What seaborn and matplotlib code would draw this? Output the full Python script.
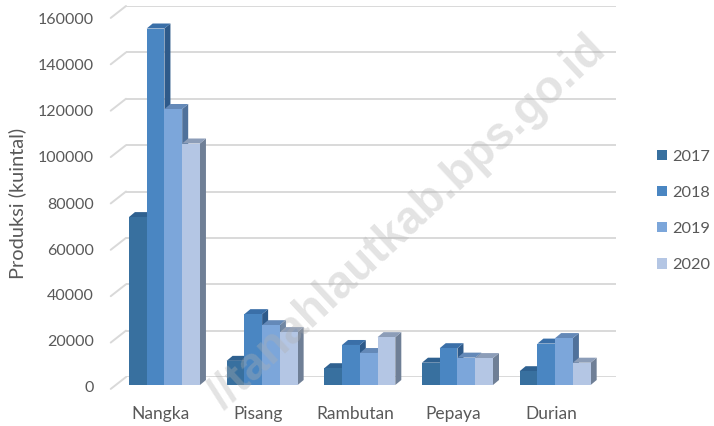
import pandas as pd
import matplotlib.pyplot as plt
from matplotlib.patches import Polygon
from matplotlib.transforms import IdentityTransform, ScaledTranslation
import seaborn as sns

# data
fruits = ['Nangka', 'Pisang', 'Rambutan', 'Pepaya', 'Durian']
years = ['2017', '2018', '2019', '2020']
prod_2017 = [73000, 10500, 7300, 9700, 6000]
prod_2018 = [155000, 30800, 17400, 16000, 18000]
prod_2019 = [120000, 26000, 13900, 11900, 20400]
prod_2020 = [105000, 23000, 20800, 11700, 9700]
y_ticks = [0, 20000, 40000, 60000, 80000, 100000, 120000, 140000, 160000]

front_colors = ['#38709F', '#4A86C2', '#7CA6DA', '#B4C6E4']
side_colors = ['#27506F', '#2E5A8A', '#4F719B', '#6F7F96']
top_colors = ['#2F6190', '#3A6FA8', '#6489B8', '#8C9DB8']
text_color = '#595959'
W, H = 714, 426

plt.rcParams['font.family'] = ['Lato', 'DejaVu Sans']

df = pd.DataFrame({'fruit': fruits, '2017': prod_2017, '2018': prod_2018,
                   '2019': prod_2019, '2020': prod_2020})
long_df = df.melt(id_vars='fruit', var_name='year', value_name='prod')

fig = plt.figure(figsize=(W / 100, H / 100), dpi=100, facecolor='white')


def box(x0, x1, y_top, y_bottom):
    # pixel box (from top left) to figure fractions
    return [x0 / W, 1 - y_bottom / H, (x1 - x0) / W, (y_bottom - y_top) / H]


# back wall with the gridlines
wall = fig.add_axes(box(126, 616, 6, 377))
wall.set_xlim(0, 1)
wall.set_ylim(0, 160000)
wall.set_yticks(y_ticks)
wall.set_xticks([])
wall.tick_params(left=False, labelleft=False)
wall.grid(axis='y', color='#d9d9d9', lw=1.4)
wall.set_axisbelow(True)
for s in wall.spines.values():
    s.set_visible(False)
for v in y_ticks:
    wall.annotate('', xy=(0, v), xycoords=wall.get_yaxis_transform(),
                  xytext=(-11, -8.6), textcoords='offset points',
                  arrowprops=dict(arrowstyle='-', color='#d9d9d9', lw=1.4,
                                  shrinkA=0, shrinkB=0))

# bars
ax = fig.add_axes(box(115.6, 604, 17, 385))
ax.patch.set_alpha(0)
sns.barplot(data=long_df, x='fruit', y='prod', hue='year', hue_order=years,
            palette=front_colors, width=0.727, gap=0, saturation=1, ax=ax)
ax.set_xlim(-0.5, 4.5)
ax.set_ylim(0, 160000)
ax.set_yticks(y_ticks)
ax.set_xlabel('')
ax.set_ylabel('Produksi (kuintal)', color=text_color, fontsize=14.4)
ax.yaxis.set_label_coords(26 / W, 1 - 203 / H, transform=fig.transFigure)
ax.tick_params(axis='y', length=0, pad=15.5, labelcolor=text_color, labelsize=11.5)
ax.tick_params(axis='x', length=0, pad=15, labelcolor=text_color, labelsize=12.5)
for s in ax.spines.values():
    s.set_visible(False)

# nudge tick labels to where the reference has them
px = fig.dpi_scale_trans
for lab in ax.get_yticklabels():
    lab.set_transform(lab.get_transform() + ScaledTranslation(0, -2 / 100, px))
for lab in ax.get_xticklabels():
    lab.set_transform(lab.get_transform() + ScaledTranslation(-4 / 100, 0, px))

# 3d look: side and top faces from each bar's own corners
dx, dy = 6, 5
for i, cont in enumerate(ax.containers):
    for bar in cont:
        (x0, y0), (x1, y1) = ax.transData.transform(
            [(bar.get_x(), 0), (bar.get_x() + bar.get_width(), bar.get_height())])
        z = 2 + (bar.get_x() + 1) * 2
        bar.set_zorder(z + 0.2)
        bar.set_linewidth(0)
        ax.add_patch(Polygon([(x1, y0), (x1 + dx, y0 + dy), (x1 + dx, y1 + dy), (x1, y1)],
                             closed=True, fc=side_colors[i], lw=0,
                             transform=IdentityTransform(), zorder=z))
        ax.add_patch(Polygon([(x0, y1), (x0 + dx, y1 + dy), (x1 + dx, y1 + dy), (x1, y1)],
                             closed=True, fc=top_colors[i], lw=0,
                             transform=IdentityTransform(), zorder=z))

sns.move_legend(ax, 'center left', bbox_to_anchor=(642 / W, 1 - 211 / H),
                bbox_transform=fig.transFigure, frameon=False, title=None,
                fontsize=11.8, handlelength=0.6, handleheight=0.6,
                handletextpad=0.35, labelspacing=1.35, labelcolor=text_color)

# watermark, only the part that shows in the picture
fig.text(600 / W, 1 - 44 / H, '//tanahlautkab.bps.go.id', rotation=43,
         ha='right', va='center', rotation_mode='anchor',
         fontsize=33, fontweight='bold',
         family=['Liberation Sans', 'DejaVu Sans'],
         color='#b0b0b0', alpha=0.35, zorder=20)

fig.savefig('out.png', dpi=100, facecolor='white')
